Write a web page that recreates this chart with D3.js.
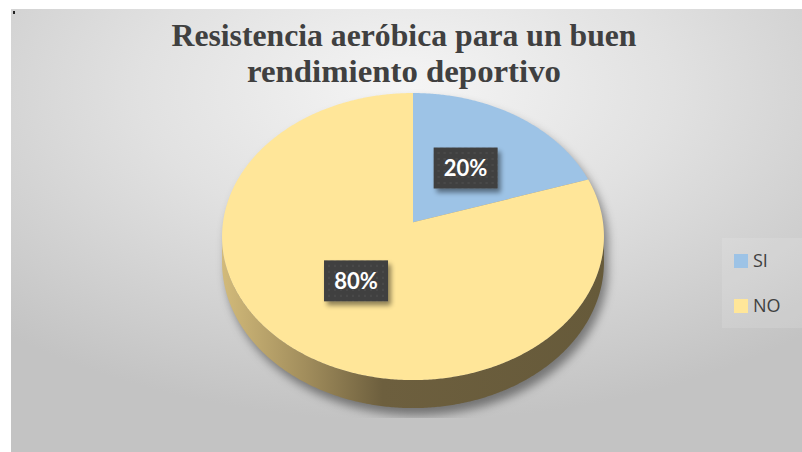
<!DOCTYPE html>
<html>
<head>
<meta charset="utf-8">
<script src="https://cdn.jsdelivr.net/npm/d3@7"></script>
<style>
  html, body { margin: 0; padding: 0; background: #ffffff; }
  svg { display: block; }
</style>
</head>
<body>
<svg id="chart" width="802" height="452"></svg>
<script>
// Survey answers and their shares (percent)
const categories = ["SI", "NO"];
const values = [20, 80];
const labels = ["20%", "80%"];
const titleLines = ["Resistencia aeróbica para un buen", "rendimiento deportivo"];

const topColors = ["#9dc3e6", "#ffe699"];

const svg = d3.select("#chart");
const W = 802, H = 452;
const defs = svg.append("defs");

// Chart-area background: soft radial gradient
const bg = defs.append("radialGradient").attr("id", "bgGrad")
  .attr("cx", "50%").attr("cy", "18%").attr("r", "75%")
  .attr("gradientUnits", "objectBoundingBox");
bg.append("stop").attr("offset", "0%").attr("stop-color", "#f5f5f5");
bg.append("stop").attr("offset", "45%").attr("stop-color", "#e1e1e1");
bg.append("stop").attr("offset", "100%").attr("stop-color", "#c3c3c3");

svg.append("rect").attr("x", 11).attr("y", 9)
  .attr("width", W - 11).attr("height", H - 9)
  .attr("fill", "url(#bgGrad)");
svg.append("rect").attr("x", 13).attr("y", 11).attr("width", 2).attr("height", 3).attr("fill", "#222");

// Title
const title = svg.append("g").attr("font-family", "'Liberation Serif', 'Times New Roman', serif")
  .attr("font-weight", "bold").attr("fill", "#404040").attr("text-anchor", "middle");
const titleY = [46, 82];
const titleLen = [465, 314];
titleLines.forEach((t, i) => {
  title.append("text").attr("x", 404).attr("y", titleY[i])
    .attr("font-size", 31)
    .attr("textLength", titleLen[i]).attr("lengthAdjust", "spacingAndGlyphs")
    .text(t);
});

// 3D pie with a mild perspective projection
const cx = 413, cy = 222.2, rx = 190, ry = 142.1, persp = 0.1, depth = 25.2;
function project(theta, r, drop) {
  const u = r * Math.sin(theta), v = r * Math.cos(theta);
  const w = 1 + persp * v;
  return [cx + rx * u / w, cy - ry * v / w + drop * depth / w];
}

const pie = d3.pie().sort(null).value(d => d)(values);
const line = d3.line();
const step = Math.PI / 360;

function arcPoints(a0, a1, drop) {
  const pts = [];
  const n = Math.max(2, Math.ceil(Math.abs(a1 - a0) / step));
  for (let i = 0; i <= n; i++) pts.push(project(a0 + (a1 - a0) * i / n, 1, drop));
  return pts;
}

// Silhouette angles: leftmost / rightmost points of the rim
let thR = 0, thL = 0, maxX = -Infinity, minX = Infinity;
for (let t = 0; t <= 2 * Math.PI; t += step / 4) {
  const x = project(t, 1, 0)[0];
  if (x > maxX) { maxX = x; thR = t; }
  if (x < minX) { minX = x; thL = t; }
}

// Drop shadow of the whole pie body
defs.append("filter").attr("id", "pieShadow")
  .attr("x", "-20%").attr("y", "-20%").attr("width", "140%").attr("height", "140%")
  .append("feGaussianBlur").attr("stdDeviation", 5);
defs.append("clipPath").attr("id", "plotClip")
  .append("rect").attr("x", 0).attr("y", 0).attr("width", W).attr("height", 418);

const body = arcPoints(0, 2 * Math.PI, 0);
const wallAll = arcPoints(thR, thL, 0).concat(arcPoints(thL, thR, 1));
svg.append("g").attr("clip-path", "url(#plotClip)")
  .append("g").attr("filter", "url(#pieShadow)").attr("transform", "translate(4,7)")
  .selectAll("path").data([body, wallAll]).join("path")
  .attr("d", d => line(d) + "Z").attr("fill", "#000").attr("fill-opacity", 0.42);

// Outer wall shading (lit from the left)
const wallGrad = defs.append("linearGradient").attr("id", "wallGrad")
  .attr("gradientUnits", "userSpaceOnUse")
  .attr("x1", minX).attr("x2", maxX).attr("y1", 0).attr("y2", 0);
[["0%", "#d2ba7a"], ["22%", "#a18d5c"], ["42%", "#6d5f3e"], ["100%", "#665a3a"]]
  .forEach(([o, c]) => wallGrad.append("stop").attr("offset", o).attr("stop-color", c));
const wallGradBlue = defs.append("linearGradient").attr("id", "wallGradBlue")
  .attr("gradientUnits", "userSpaceOnUse")
  .attr("x1", minX).attr("x2", maxX).attr("y1", 0).attr("y2", 0);
[["0%", "#8fb1d0"], ["42%", "#4f6477"], ["100%", "#4a5e70"]]
  .forEach(([o, c]) => wallGradBlue.append("stop").attr("offset", o).attr("stop-color", c));
const wallFills = ["url(#wallGradBlue)", "url(#wallGrad)"];

const walls = svg.append("g");
pie.forEach((s, i) => {
  const a0 = Math.max(s.startAngle, thR), a1 = Math.min(s.endAngle, thL);
  if (a1 <= a0) return;
  const pts = arcPoints(a0, a1, 0).concat(arcPoints(a1, a0, 1));
  walls.append("path").attr("d", line(pts) + "Z").attr("fill", wallFills[i]);
});

// Top faces of the slices
const tops = svg.append("g");
tops.selectAll("path").data(pie).join("path")
  .attr("d", d => line([project(0, 0, 0)].concat(arcPoints(d.startAngle, d.endAngle, 0))) + "Z")
  .attr("fill", (d, i) => topColors[i]);

// Value labels in dark callout boxes
const dots = defs.append("pattern").attr("id", "dots")
  .attr("width", 6).attr("height", 6).attr("patternUnits", "userSpaceOnUse");
dots.append("rect").attr("width", 6).attr("height", 6).attr("fill", "#404040");
dots.append("circle").attr("cx", 3).attr("cy", 3).attr("r", 1.2).attr("fill", "#4a4a4a");

const boxShadow = defs.append("filter").attr("id", "boxShadow")
  .attr("x", "-30%").attr("y", "-30%").attr("width", "170%").attr("height", "170%");
boxShadow.append("feGaussianBlur").attr("in", "SourceAlpha").attr("stdDeviation", 2.5).attr("result", "b");
boxShadow.append("feOffset").attr("in", "b").attr("dx", 3).attr("dy", 4).attr("result", "o");
boxShadow.append("feComponentTransfer").attr("in", "o").attr("result", "s")
  .append("feFuncA").attr("type", "linear").attr("slope", 0.45);
const bm = boxShadow.append("feMerge");
bm.append("feMergeNode").attr("in", "s");
bm.append("feMergeNode").attr("in", "SourceGraphic");

const labelG = svg.append("g");
pie.forEach((s, i) => {
  const mid = (s.startAngle + s.endAngle) / 2;
  const [lx, ly] = project(mid, 0.49, 0);
  const g = labelG.append("g").attr("transform", `translate(${lx},${ly})`);
  g.append("rect").attr("x", -32).attr("y", -20.5).attr("width", 64).attr("height", 41)
    .attr("fill", "url(#dots)").attr("filter", "url(#boxShadow)");
  g.append("text").attr("text-anchor", "middle").attr("dy", "0.36em")
    .attr("font-family", "Lato, 'Open Sans', sans-serif").attr("font-weight", "bold")
    .attr("font-size", 22).attr("fill", "#ffffff").text(labels[i]);
});

// Legend
const legend = svg.append("g");
legend.append("rect").attr("x", 722).attr("y", 238).attr("width", 80).attr("height", 90)
  .attr("fill", "#ffffff").attr("fill-opacity", 0.12);
const itemY = [261, 306];
categories.forEach((c, i) => {
  legend.append("rect").attr("x", 734).attr("y", itemY[i] - 7).attr("width", 14).attr("height", 14)
    .attr("fill", topColors[i]);
  legend.append("text").attr("x", 753).attr("y", itemY[i]).attr("dy", "0.35em")
    .attr("font-family", "'Open Sans', sans-serif").attr("font-size", 18)
    .attr("fill", "#404040").text(c);
});
</script>
</body>
</html>
